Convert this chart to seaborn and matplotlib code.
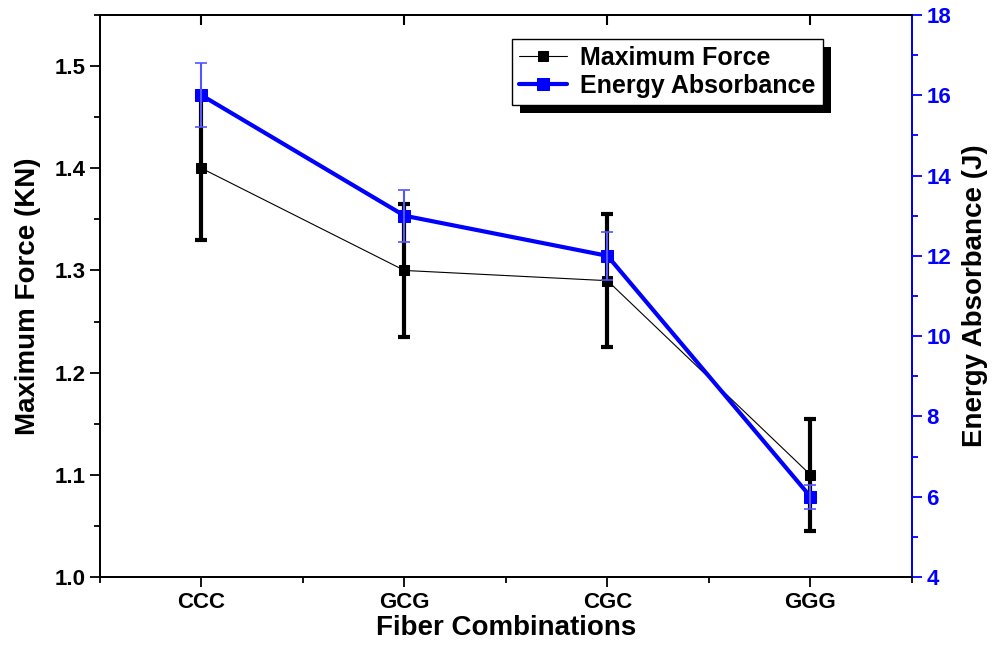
import matplotlib
matplotlib.use("Agg")
import matplotlib.pyplot as plt
import matplotlib.lines as mlines
from matplotlib.ticker import MultipleLocator
from matplotlib.patches import Rectangle
import seaborn as sns
import pandas as pd

combos = ["CCC", "GCG", "CGC", "GGG"]
max_force = [1.40, 1.30, 1.29, 1.10]
max_force_err = [0.07, 0.065, 0.065, 0.055]
energy = [16.0, 13.0, 12.0, 6.0]
energy_err = [0.8, 0.65, 0.6, 0.3]

df = pd.DataFrame({"combo": combos, "force": max_force, "energy": energy})

sns.set_style("ticks")
plt.rcParams["font.family"] = ["Liberation Sans", "DejaVu Sans"]
plt.rcParams["font.weight"] = "bold"
plt.rcParams["text.color"] = "black"
plt.rcParams["axes.labelcolor"] = "black"
plt.rcParams["xtick.color"] = "black"
plt.rcParams["ytick.color"] = "black"

fig = plt.figure(figsize=(9.93, 6.46), dpi=100)
ax = fig.add_axes([0.1007, 0.1068, 0.8177, 0.87])
ax2 = ax.twinx()

# left axis: maximum force
sns.lineplot(data=df, x="combo", y="force", ax=ax, color="black", lw=0.8,
             marker="s", markersize=7.5, markeredgecolor="black",
             label="Maximum Force", legend=False, sort=False)
ax.errorbar(combos, max_force, yerr=max_force_err, fmt="none", ecolor="black",
            elinewidth=3, capsize=4, capthick=3)

# right axis: energy absorbance
sns.lineplot(data=df, x="combo", y="energy", ax=ax2, color="#0000ff", lw=3,
             marker="s", markersize=8, markeredgecolor="#0000ff",
             label="Energy Absorbance", legend=False, sort=False)
ax2.errorbar(combos, energy, yerr=energy_err, fmt="none", ecolor="#5555ff",
             elinewidth=1.5, capsize=4, capthick=1.2)

ax.set_xlim(-0.5, 3.5)
ax.set_ylim(1.0, 1.55)
ax2.set_ylim(4, 18)

ax.yaxis.set_major_locator(MultipleLocator(0.1))
ax.yaxis.set_minor_locator(MultipleLocator(0.05))
ax2.yaxis.set_major_locator(MultipleLocator(2))
ax2.yaxis.set_minor_locator(MultipleLocator(1))
ax.set_xticks(range(len(combos)))
ax.set_xticks([-0.5, 0.5, 1.5, 2.5, 3.5], minor=True)

for a in (ax, ax2):
    for s in a.spines.values():
        s.set_linewidth(1.3)
        s.set_color("black")
ax2.spines["right"].set_color("#0000ff")

ax.tick_params(axis="both", which="major", direction="out", length=7, width=1.3,
               labelsize=16)
ax.tick_params(axis="both", which="minor", direction="out", length=4, width=1.3)
ax.tick_params(axis="x", which="major", top=True, labeltop=False)
ax.tick_params(axis="x", which="minor", top=False)
ax2.tick_params(axis="y", which="major", direction="out", length=7, width=1.3,
                colors="#0000ff", labelsize=16)
ax2.tick_params(axis="y", which="minor", direction="out", length=4, width=1.3,
                colors="#0000ff")
for lab in ax.get_xticklabels() + ax.get_yticklabels() + ax2.get_yticklabels():
    lab.set_fontweight("bold")

ax.set_xlabel("Fiber Combinations", fontsize=20, fontweight="bold", labelpad=2)
ax.set_ylabel("Maximum Force (KN)", fontsize=20, fontweight="bold", labelpad=10)
ax2.set_ylabel("Energy Absorbance (J)", fontsize=20, fontweight="bold", labelpad=8)

h1, l1 = ax.get_legend_handles_labels()
h2, l2 = ax2.get_legend_handles_labels()
leg = ax2.legend(h1 + h2, l1 + l2, loc="upper left", bbox_to_anchor=(0.507, 0.958),
                 frameon=True, fancybox=False, shadow=False,
                 handlelength=1.9, handletextpad=0.55, borderpad=0.3,
                 labelspacing=0.15, borderaxespad=0,
                 prop={"weight": "bold", "size": 18})
leg.get_frame().set_edgecolor("black")
leg.get_frame().set_linewidth(1)
leg.get_frame().set_alpha(1)
leg.set_zorder(10)

# hard black drop shadow behind the legend box
fig.canvas.draw()
bb = leg.get_window_extent()
shadow = Rectangle((bb.x0 + 8, bb.y0 - 8), bb.width, bb.height,
                   transform=None, facecolor="black", edgecolor="none", zorder=9)
ax2.add_artist(shadow)

# top frame ticks point inward while bottom ones point outward
for tk in ax.xaxis.get_major_ticks():
    tk.tick2line.set_marker(mlines.TICKDOWN)
    tk.tick2line.set_markersize(7)
    tk.tick2line.set_markeredgewidth(1.5)
    tk.tick2line.set_zorder(20)

fig.savefig("out.png", dpi=100)
